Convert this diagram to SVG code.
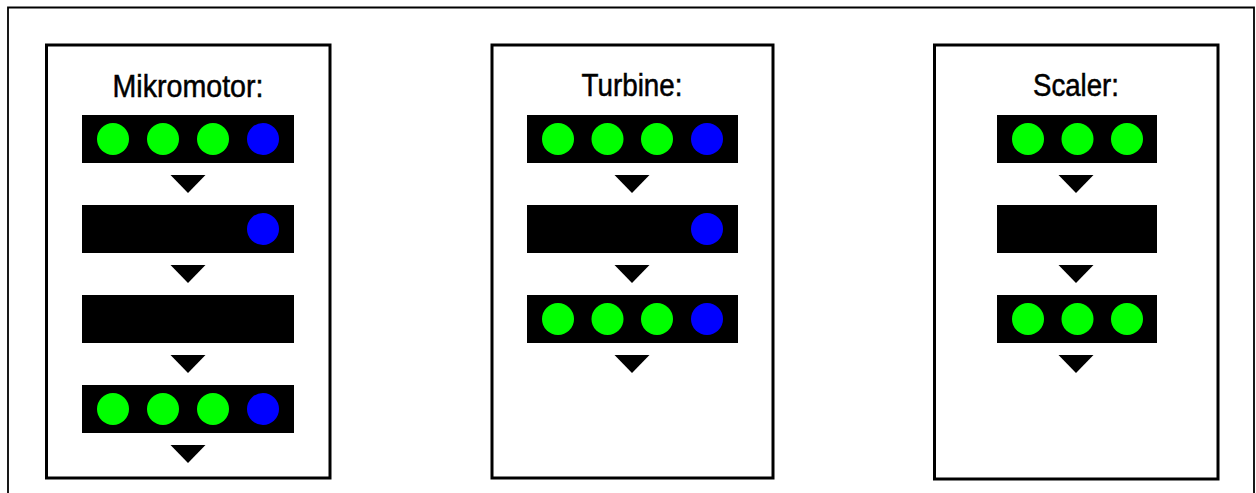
<svg xmlns="http://www.w3.org/2000/svg" xmlns:xlink="http://www.w3.org/1999/xlink" width="1256" height="493" viewBox="0 0 1256 493">
  <style>
    .frame { fill: none; stroke: #000; stroke-width: 1.8; }
    .panel { fill: #fff; stroke: #000; stroke-width: 3; }
    .title { font-family: "Liberation Sans", Arial, sans-serif; font-size: 31px; fill: #000; stroke: #000; stroke-width: 0.5; text-anchor: middle; }
    .bar { fill: #000; }
    .on { fill: #00ff00; }
    .blue { fill: #0000ff; }
    .step { fill: #000; }
  </style>
  <defs>
    <!-- downward step marker between two indicator rows -->
    <polygon id="arrowDown" points="-17.5,0 17.5,0 0,18"/>
  </defs>

  <rect width="1256" height="493" fill="#fff"/>

  <!-- outer frame, open at the bottom -->
  <path class="frame" d="M8,500 V7.5 H1254 V500"/>

  <g id="panel-mikromotor">
    <rect class="panel" x="46.5" y="45" width="283.5" height="433"/>
    <text class="title" x="188" y="97" textLength="151" lengthAdjust="spacingAndGlyphs">Mikromotor:</text>
    <g id="mikromotor-row1">
      <rect class="bar" x="82" y="115" width="212" height="48"/>
      <circle class="on" cx="113" cy="139" r="16"/>
      <circle class="on" cx="163" cy="139" r="16"/>
      <circle class="on" cx="213" cy="139" r="16"/>
      <circle class="blue" cx="263" cy="139" r="16"/>
    </g>
    <g id="mikromotor-row2">
      <rect class="bar" x="82" y="205" width="212" height="48"/>
      <circle class="blue" cx="263" cy="229" r="16"/>
    </g>
    <g id="mikromotor-row3">
      <rect class="bar" x="82" y="295" width="212" height="48"/>
    </g>
    <g id="mikromotor-row4">
      <rect class="bar" x="82" y="385" width="212" height="48"/>
      <circle class="on" cx="113" cy="409" r="16"/>
      <circle class="on" cx="163" cy="409" r="16"/>
      <circle class="on" cx="213" cy="409" r="16"/>
      <circle class="blue" cx="263" cy="409" r="16"/>
    </g>
  </g>

  <g id="panel-turbine">
    <rect class="panel" x="492" y="45" width="281" height="433"/>
    <text class="title" x="632" y="96" textLength="101" lengthAdjust="spacingAndGlyphs">Turbine:</text>
    <g id="turbine-row1">
      <rect class="bar" x="527" y="115" width="211" height="48"/>
      <circle class="on" cx="558" cy="139" r="16"/>
      <circle class="on" cx="607.5" cy="139" r="16"/>
      <circle class="on" cx="657" cy="139" r="16"/>
      <circle class="blue" cx="707" cy="139" r="16"/>
    </g>
    <g id="turbine-row2">
      <rect class="bar" x="527" y="205" width="211" height="48"/>
      <circle class="blue" cx="707" cy="229" r="16"/>
    </g>
    <g id="turbine-row3">
      <rect class="bar" x="527" y="295" width="211" height="48"/>
      <circle class="on" cx="558" cy="319" r="16"/>
      <circle class="on" cx="607.5" cy="319" r="16"/>
      <circle class="on" cx="657" cy="319" r="16"/>
      <circle class="blue" cx="707" cy="319" r="16"/>
    </g>
  </g>

  <g id="panel-scaler">
    <rect class="panel" x="934.5" y="45" width="283.5" height="434"/>
    <text class="title" x="1076" y="96" textLength="86" lengthAdjust="spacingAndGlyphs">Scaler:</text>
    <g id="scaler-row1">
      <rect class="bar" x="997" y="115" width="160" height="48"/>
      <circle class="on" cx="1028" cy="139" r="16"/>
      <circle class="on" cx="1077.5" cy="139" r="16"/>
      <circle class="on" cx="1127" cy="139" r="16"/>
    </g>
    <g id="scaler-row2">
      <rect class="bar" x="997" y="205" width="160" height="48"/>
    </g>
    <g id="scaler-row3">
      <rect class="bar" x="997" y="295" width="160" height="48"/>
      <circle class="on" cx="1028" cy="319" r="16"/>
      <circle class="on" cx="1077.5" cy="319" r="16"/>
      <circle class="on" cx="1127" cy="319" r="16"/>
    </g>
  </g>

  <g id="connectors" class="step">
    <use xlink:href="#arrowDown" x="188" y="175"/>
    <use xlink:href="#arrowDown" x="188" y="265"/>
    <use xlink:href="#arrowDown" x="188" y="355"/>
    <use xlink:href="#arrowDown" x="188" y="445"/>
    <use xlink:href="#arrowDown" x="632" y="175"/>
    <use xlink:href="#arrowDown" x="632" y="265"/>
    <use xlink:href="#arrowDown" x="632" y="355"/>
    <use xlink:href="#arrowDown" x="1076" y="175"/>
    <use xlink:href="#arrowDown" x="1076" y="265"/>
    <use xlink:href="#arrowDown" x="1076" y="355"/>
  </g>
</svg>
